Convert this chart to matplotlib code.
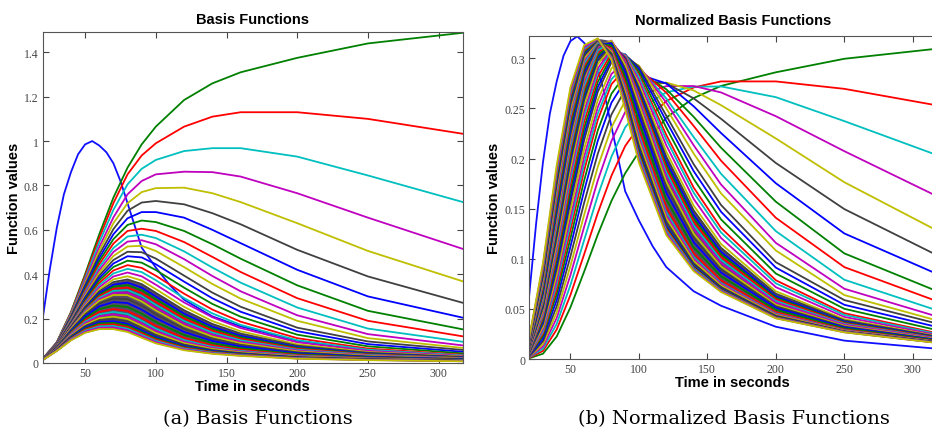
import numpy as np
import matplotlib
matplotlib.use("Agg")
import matplotlib.pyplot as plt

# sample times of the basis functions (s)
t = [20, 30, 40, 50, 60, 70, 80, 90, 100, 120, 140, 160, 200, 250, 320]

# input function (blue curve) has its own samples
aif_t = [20, 25, 30, 35, 40, 45, 50, 55, 60, 65, 70, 75, 80, 85, 90, 100,
         110, 120, 140, 160, 200, 250, 320]
aif_v = [0.20, 0.42, 0.61, 0.76, 0.86, 0.94, 0.985, 1.0, 0.98, 0.95, 0.90,
         0.82, 0.72, 0.62, 0.52, 0.43, 0.35, 0.285, 0.21, 0.165, 0.10,
         0.057, 0.031]
aif_norm_peak = 0.322

# (a) the well separated curves, top to bottom
upper_curves = [
    [0.018, 0.094, 0.23, 0.40, 0.58, 0.745, 0.88, 0.985, 1.065, 1.185, 1.26, 1.31, 1.375, 1.44, 1.49],
    [0.0183, 0.093, 0.227, 0.391, 0.5625, 0.72, 0.85, 0.935, 0.99, 1.065, 1.11, 1.13, 1.13, 1.10, 1.03],
    [0.0181, 0.0918, 0.2224, 0.3805, 0.5433, 0.69, 0.805, 0.875, 0.915, 0.955, 0.968, 0.968, 0.93, 0.845, 0.72],
    [0.018, 0.0905, 0.218, 0.37, 0.522, 0.656, 0.76, 0.82, 0.85, 0.862, 0.86, 0.84, 0.765, 0.655, 0.508],
    [0.0178, 0.089, 0.214, 0.36, 0.505, 0.63, 0.72, 0.77, 0.788, 0.79, 0.765, 0.725, 0.63, 0.505, 0.362],
    [0.0176, 0.088, 0.21, 0.351, 0.488, 0.603, 0.686, 0.723, 0.73, 0.715, 0.675, 0.625, 0.51, 0.39, 0.266],
    [0.0174, 0.087, 0.206, 0.343, 0.473, 0.58, 0.652, 0.68, 0.68, 0.655, 0.60, 0.54, 0.42, 0.30, 0.20],
    [0.0172, 0.0857, 0.202, 0.334, 0.459, 0.558, 0.622, 0.642, 0.635, 0.595, 0.535, 0.47, 0.35, 0.235, 0.148],
    [0.0171, 0.0846, 0.198, 0.326, 0.445, 0.538, 0.595, 0.605, 0.595, 0.545, 0.478, 0.41, 0.292, 0.19, 0.117],
    [0.0169, 0.0834, 0.195, 0.318, 0.431, 0.518, 0.57, 0.578, 0.563, 0.503, 0.43, 0.362, 0.25, 0.155, 0.093],
    [0.0167, 0.0823, 0.191, 0.311, 0.418, 0.50, 0.547, 0.553, 0.535, 0.468, 0.392, 0.323, 0.215, 0.13, 0.077],
    [0.0166, 0.0813, 0.188, 0.3035, 0.406, 0.482, 0.525, 0.528, 0.505, 0.432, 0.356, 0.29, 0.19, 0.112, 0.066],
    [0.0164, 0.0802, 0.1845, 0.2961, 0.3937, 0.4639, 0.5011, 0.4992, 0.4706, 0.3937, 0.317, 0.2533, 0.1592, 0.097, 0.057],
    [0.0162, 0.0792, 0.1813, 0.2894, 0.3827, 0.4482, 0.481, 0.4757, 0.4448, 0.3666, 0.2916, 0.2309, 0.1434, 0.085, 0.049],
    [0.0161, 0.0781, 0.1781, 0.2828, 0.3716, 0.4325, 0.461, 0.4521, 0.4189, 0.3394, 0.2661, 0.2085, 0.1276, 0.075, 0.042],
    [0.0159, 0.0771, 0.1749, 0.2761, 0.3606, 0.4168, 0.4409, 0.4286, 0.3931, 0.3123, 0.2407, 0.1861, 0.1118, 0.065, 0.0358],
    [0.0158, 0.0761, 0.172, 0.2701, 0.3509, 0.4034, 0.4242, 0.4096, 0.373, 0.2925, 0.2234, 0.1717, 0.1026, 0.0598, 0.0332],
    [0.0156, 0.0751, 0.169, 0.264, 0.3412, 0.3899, 0.4076, 0.3906, 0.3528, 0.2728, 0.206, 0.1573, 0.0934, 0.0547, 0.0305],
    [0.0155, 0.0741, 0.1661, 0.258, 0.3315, 0.3765, 0.3909, 0.3716, 0.3327, 0.253, 0.1887, 0.1429, 0.0842, 0.0495, 0.0279],
]

# (a) the dense bundle at the bottom
band_curves = [
    [0.0153, 0.0732, 0.1633, 0.2525, 0.3228, 0.3647, 0.3766, 0.3557, 0.3162, 0.2377, 0.1759, 0.1327, 0.078, 0.0461, 0.0262],
    [0.0152, 0.0723, 0.1605, 0.2469, 0.314, 0.3528, 0.3622, 0.3397, 0.2997, 0.2223, 0.1631, 0.1225, 0.0718, 0.0427, 0.0244],
    [0.0151, 0.0722, 0.1589, 0.243, 0.3073, 0.3435, 0.3509, 0.3272, 0.2871, 0.2112, 0.1543, 0.1158, 0.0679, 0.0405, 0.0232],
    [0.015, 0.0721, 0.1574, 0.239, 0.3006, 0.3342, 0.3396, 0.3147, 0.2745, 0.2002, 0.1456, 0.1091, 0.064, 0.0384, 0.0221],
    [0.0149, 0.072, 0.1558, 0.2351, 0.2938, 0.325, 0.3283, 0.3021, 0.2619, 0.1891, 0.1368, 0.1023, 0.06, 0.0362, 0.0209],
    [0.0148, 0.0719, 0.1543, 0.2311, 0.2871, 0.3157, 0.317, 0.2896, 0.2493, 0.1781, 0.128, 0.0956, 0.0561, 0.0341, 0.0198],
    [0.0147, 0.0718, 0.1527, 0.2272, 0.2804, 0.3064, 0.3057, 0.2771, 0.2367, 0.167, 0.1192, 0.0889, 0.0522, 0.0319, 0.0186],
    [0.0146, 0.0703, 0.1482, 0.2186, 0.2678, 0.2905, 0.2879, 0.2588, 0.2194, 0.1534, 0.1093, 0.0816, 0.0481, 0.0295, 0.0172],
    [0.0145, 0.0688, 0.1437, 0.2101, 0.2552, 0.2746, 0.2701, 0.2405, 0.2021, 0.1398, 0.0994, 0.0743, 0.0439, 0.0272, 0.0159],
    [0.0144, 0.0673, 0.1392, 0.2015, 0.2425, 0.2587, 0.2522, 0.2222, 0.1847, 0.1262, 0.0894, 0.067, 0.0398, 0.0248, 0.0146],
    [0.0143, 0.0659, 0.1347, 0.193, 0.2299, 0.2429, 0.2344, 0.2039, 0.1674, 0.1126, 0.0795, 0.0597, 0.0356, 0.0225, 0.0132],
    [0.0142, 0.0645, 0.1307, 0.1856, 0.2194, 0.23, 0.2203, 0.1898, 0.1544, 0.1029, 0.0725, 0.0546, 0.0327, 0.0208, 0.0122],
    [0.0141, 0.0632, 0.1271, 0.1792, 0.2105, 0.2195, 0.2091, 0.179, 0.1448, 0.0961, 0.0679, 0.0513, 0.0307, 0.0196, 0.0116],
    [0.014, 0.0619, 0.1234, 0.1728, 0.2016, 0.2089, 0.198, 0.1682, 0.1353, 0.0894, 0.0632, 0.0479, 0.0287, 0.0184, 0.0109],
    [0.0139, 0.0606, 0.1198, 0.1664, 0.1928, 0.1984, 0.1868, 0.1574, 0.1257, 0.0826, 0.0585, 0.0445, 0.0268, 0.0172, 0.0102],
    [0.0138, 0.0594, 0.1163, 0.1602, 0.1842, 0.1883, 0.1761, 0.1471, 0.1166, 0.0762, 0.0541, 0.0413, 0.0249, 0.0161, 0.0096],
    [0.0137, 0.0583, 0.1134, 0.1554, 0.1779, 0.1812, 0.1689, 0.1404, 0.111, 0.0724, 0.0516, 0.0394, 0.0238, 0.0154, 0.0091],
    [0.0136, 0.0572, 0.1105, 0.1505, 0.1716, 0.174, 0.1616, 0.1337, 0.1053, 0.0687, 0.049, 0.0375, 0.0226, 0.0148, 0.0087],
    [0.0134, 0.0561, 0.1076, 0.1457, 0.1652, 0.1669, 0.1544, 0.127, 0.0997, 0.0649, 0.0465, 0.0357, 0.0215, 0.0141, 0.0083],
    [0.0133, 0.055, 0.1047, 0.1409, 0.1589, 0.1598, 0.1472, 0.1204, 0.094, 0.0612, 0.0439, 0.0338, 0.0204, 0.0134, 0.0079],
    [0.0131, 0.0539, 0.1018, 0.1361, 0.1526, 0.1526, 0.1399, 0.1137, 0.0884, 0.0574, 0.0414, 0.0319, 0.0193, 0.0127, 0.0075],
]

# (b) normalized curves, same order
norm_upper = [
    [0.0008, 0.0053, 0.0224, 0.0514, 0.087, 0.1241, 0.1578, 0.1853, 0.2066, 0.2409, 0.2604, 0.2725, 0.2861, 0.2996, 0.31],
    [0.0012, 0.0081, 0.0294, 0.0637, 0.1043, 0.1456, 0.1829, 0.2125, 0.2319, 0.2574, 0.271, 0.277, 0.277, 0.2696, 0.2525],
    [0.0017, 0.0103, 0.035, 0.0736, 0.1184, 0.163, 0.202, 0.2311, 0.2487, 0.2662, 0.2717, 0.272, 0.2613, 0.2374, 0.2023],
    [0.0019, 0.0126, 0.0408, 0.0835, 0.1316, 0.1781, 0.2176, 0.2464, 0.2626, 0.2723, 0.2724, 0.266, 0.2423, 0.2074, 0.1609],
    [0.0024, 0.0149, 0.0464, 0.0926, 0.1435, 0.1917, 0.2311, 0.2577, 0.2712, 0.2759, 0.268, 0.2533, 0.2201, 0.1764, 0.1265],
    [0.0027, 0.0176, 0.0525, 0.1022, 0.1556, 0.2048, 0.244, 0.2688, 0.2784, 0.2751, 0.2601, 0.2397, 0.1956, 0.1496, 0.102],
    [0.0033, 0.0203, 0.0587, 0.1118, 0.1677, 0.2177, 0.2558, 0.2776, 0.284, 0.275, 0.2522, 0.2255, 0.1754, 0.1253, 0.0835],
    [0.004, 0.0231, 0.0646, 0.1202, 0.1779, 0.2281, 0.2647, 0.2835, 0.2864, 0.2692, 0.2417, 0.2108, 0.157, 0.1054, 0.0664],
    [0.0043, 0.0255, 0.0698, 0.1283, 0.1878, 0.2386, 0.2742, 0.2897, 0.2894, 0.2659, 0.2326, 0.1979, 0.1409, 0.0917, 0.0565],
    [0.0048, 0.0276, 0.0745, 0.1347, 0.1946, 0.2448, 0.2792, 0.2932, 0.2907, 0.2601, 0.2215, 0.1848, 0.1276, 0.0791, 0.0475],
    [0.0054, 0.0299, 0.0789, 0.1411, 0.2016, 0.2513, 0.2844, 0.2967, 0.2923, 0.2559, 0.2133, 0.1741, 0.1159, 0.0701, 0.0415],
    [0.006, 0.0323, 0.0841, 0.148, 0.2092, 0.2583, 0.29, 0.3004, 0.2928, 0.2502, 0.205, 0.1653, 0.1083, 0.0638, 0.0376],
    [0.0066, 0.0351, 0.0898, 0.1559, 0.2181, 0.2665, 0.2961, 0.3033, 0.2916, 0.2429, 0.1944, 0.1537, 0.0966, 0.0588, 0.0346],
    [0.007, 0.0372, 0.0939, 0.1614, 0.2239, 0.2714, 0.2991, 0.3037, 0.2895, 0.2374, 0.1875, 0.1469, 0.0912, 0.0541, 0.0312],
    [0.0074, 0.0394, 0.0983, 0.1672, 0.2299, 0.2763, 0.3021, 0.3039, 0.2868, 0.2309, 0.1797, 0.1393, 0.0853, 0.0501, 0.0281],
    [0.0079, 0.0418, 0.103, 0.1735, 0.2363, 0.2816, 0.3051, 0.3039, 0.2836, 0.2237, 0.1711, 0.1308, 0.0786, 0.0457, 0.0252],
    [0.0085, 0.044, 0.1075, 0.1792, 0.2421, 0.2863, 0.3079, 0.3041, 0.2816, 0.2191, 0.166, 0.1263, 0.0755, 0.044, 0.0244],
    [0.009, 0.0462, 0.1117, 0.1845, 0.2472, 0.29, 0.3096, 0.3032, 0.2782, 0.2133, 0.1598, 0.1208, 0.0717, 0.042, 0.0234],
    [0.0096, 0.0487, 0.1165, 0.1903, 0.2527, 0.2942, 0.3113, 0.302, 0.2744, 0.2069, 0.1531, 0.1148, 0.0676, 0.0398, 0.0224],
]

norm_band = [
    [0.0102, 0.0515, 0.1215, 0.1963, 0.2582, 0.298, 0.313, 0.301, 0.2711, 0.2021, 0.1484, 0.111, 0.0652, 0.0386, 0.0219],
    [0.0106, 0.0531, 0.1247, 0.2003, 0.2623, 0.301, 0.3143, 0.3003, 0.2685, 0.1973, 0.1436, 0.1069, 0.0626, 0.0373, 0.0213],
    [0.0109, 0.0548, 0.1275, 0.2037, 0.2651, 0.3028, 0.3146, 0.2989, 0.2658, 0.1936, 0.1402, 0.1043, 0.0611, 0.0365, 0.0209],
    [0.0112, 0.0567, 0.131, 0.2079, 0.2691, 0.3057, 0.316, 0.2984, 0.2637, 0.1903, 0.1372, 0.1018, 0.0597, 0.0358, 0.0206],
    [0.0115, 0.0585, 0.1342, 0.2117, 0.2724, 0.3078, 0.3163, 0.2967, 0.2606, 0.1861, 0.1333, 0.0988, 0.0579, 0.035, 0.0202],
    [0.0118, 0.0607, 0.1382, 0.2164, 0.2768, 0.311, 0.3177, 0.296, 0.2582, 0.1823, 0.1297, 0.0959, 0.0563, 0.0342, 0.0199],
    [0.0122, 0.0627, 0.1417, 0.2203, 0.28, 0.3126, 0.3174, 0.2935, 0.2541, 0.177, 0.125, 0.0923, 0.0542, 0.0331, 0.0193],
    [0.0128, 0.0648, 0.1452, 0.2239, 0.2824, 0.3131, 0.3157, 0.2897, 0.2488, 0.1715, 0.1208, 0.0893, 0.0527, 0.0323, 0.0188],
    [0.0135, 0.0673, 0.1495, 0.2286, 0.286, 0.3145, 0.3148, 0.2862, 0.2437, 0.166, 0.1166, 0.0863, 0.051, 0.0316, 0.0185],
    [0.0142, 0.0699, 0.1539, 0.2331, 0.2889, 0.3151, 0.3126, 0.2814, 0.237, 0.1592, 0.1113, 0.0826, 0.0491, 0.0306, 0.018],
    [0.015, 0.073, 0.1588, 0.2381, 0.2922, 0.3156, 0.3101, 0.2758, 0.2294, 0.1514, 0.1055, 0.0784, 0.0468, 0.0295, 0.0173],
    [0.0158, 0.0755, 0.163, 0.2422, 0.2949, 0.3161, 0.3082, 0.2717, 0.224, 0.1463, 0.1017, 0.0757, 0.0454, 0.0288, 0.0169],
    [0.0165, 0.0779, 0.1666, 0.2461, 0.2977, 0.3174, 0.3079, 0.2697, 0.221, 0.1436, 0.1, 0.0748, 0.0448, 0.0286, 0.0169],
    [0.0172, 0.0801, 0.1702, 0.2495, 0.2999, 0.3177, 0.3067, 0.2668, 0.2174, 0.1405, 0.0979, 0.0734, 0.044, 0.0282, 0.0167],
    [0.0179, 0.0827, 0.1742, 0.2534, 0.3024, 0.3182, 0.305, 0.2634, 0.2129, 0.1368, 0.0953, 0.0718, 0.0432, 0.0277, 0.0165],
    [0.0187, 0.0855, 0.1783, 0.2573, 0.3049, 0.3186, 0.3033, 0.2598, 0.2085, 0.1329, 0.093, 0.0702, 0.0423, 0.0274, 0.0163],
    [0.0194, 0.0872, 0.1808, 0.2596, 0.3062, 0.3188, 0.3027, 0.258, 0.2064, 0.1312, 0.092, 0.0696, 0.042, 0.0272, 0.0161],
    [0.02, 0.0892, 0.1835, 0.2621, 0.3079, 0.3191, 0.3018, 0.2562, 0.2041, 0.1297, 0.091, 0.069, 0.0416, 0.0272, 0.016],
    [0.0205, 0.0913, 0.1866, 0.2648, 0.3093, 0.3194, 0.3008, 0.254, 0.2017, 0.1279, 0.0901, 0.0684, 0.0412, 0.027, 0.0159],
    [0.0212, 0.0935, 0.1898, 0.2677, 0.311, 0.3196, 0.2998, 0.2519, 0.1988, 0.1258, 0.0887, 0.0677, 0.0409, 0.0268, 0.0158],
    [0.022, 0.0958, 0.1933, 0.2709, 0.3131, 0.32, 0.2986, 0.2493, 0.1961, 0.1237, 0.0877, 0.0669, 0.0405, 0.0266, 0.0157],
]

# matlab colour order after the blue
cycle = ['#008000', '#ff0000', '#00bfbf', '#bf00bf', '#bfbf00', '#404040', '#0000ff']

fig = plt.figure(figsize=(9.32, 4.31), dpi=100)
ax1 = fig.add_axes([0.0458, 0.1555, 0.4506, 0.7687])
ax2 = fig.add_axes([0.5679, 0.1647, 0.4365, 0.7487])

bold = dict(family='Liberation Sans', weight='bold', size=10.5)
aif_scaled = np.array(aif_v) * aif_norm_peak / max(aif_v)

panels = [
    (ax1, upper_curves, band_curves, aif_v, 1.493,
     [0, 0.2, 0.4, 0.6, 0.8, 1, 1.2, 1.4],
     ['0', '0.2', '0.4', '0.6', '0.8', '1', '1.2', '1.4']),
    (ax2, norm_upper, norm_band, aif_scaled, 0.322,
     [0, 0.05, 0.1, 0.15, 0.2, 0.25, 0.3],
     ['0', '0.05', '0.1', '0.15', '0.2', '0.25', '0.3']),
]

for ax, up, bd, ya, ytop, yt, ylab in panels:
    ax.plot(aif_t, ya, color='#1010ff', lw=1.3)
    bd = np.array(bd)
    # dark fill behind the dense bundle
    ax.fill_between(t, bd.min(axis=0), bd.max(axis=0), color='#584c66', lw=0)
    for i, row in enumerate(list(up) + list(bd)):
        ax.plot(t, row, color=cycle[i % 7], lw=1.3)
    ax.set_xlim(20, 317)
    ax.set_ylim(0, ytop)
    ax.set_xticks([50, 100, 150, 200, 250, 300])
    ax.set_yticks(yt)
    ax.set_yticklabels(ylab)
    ax.tick_params(direction='in', top=True, right=True, length=4, width=0.8,
                   colors='#444444', labelsize=8.5, pad=3)
    for lab in ax.get_xticklabels() + ax.get_yticklabels():
        lab.set_family('Liberation Serif')
    for s in ax.spines.values():
        s.set_color('#555555')
        s.set_linewidth(0.8)
    ax.set_xlabel('Time in seconds', labelpad=0, **bold)
    ax.set_ylabel('Function values', labelpad=2, **bold)

# right edge of panel (b) is cut off in the original
ax2.tick_params(right=False)
ax2.spines['right'].set_visible(False)

ax1.set_title('Basis Functions', pad=6, **bold)
ax2.set_title('Normalized Basis Functions', pad=9, **bold)

cap = dict(family='DejaVu Serif', size=14, ha='center', va='center')
fig.text(0.277, 0.027, '(a) Basis Functions', **cap)
fig.text(0.787, 0.027, '(b) Normalized Basis Functions', **cap)

fig.savefig('out.png', dpi=100)
